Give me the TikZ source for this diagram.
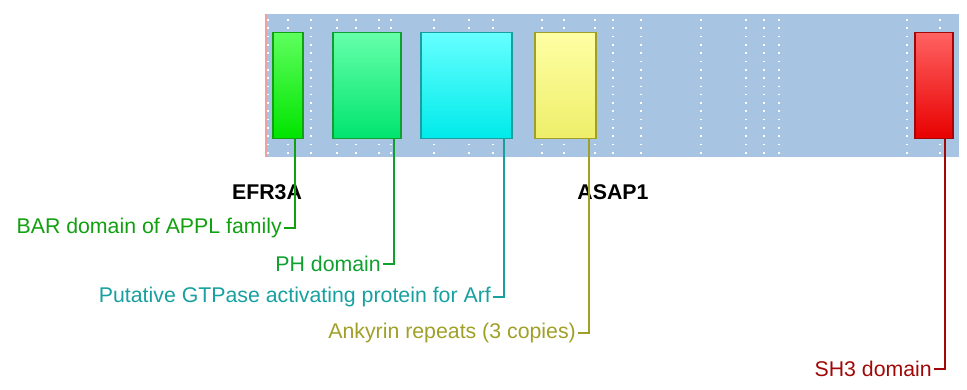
\documentclass[tikz,border=0pt]{standalone}
\usepackage{fontspec}
\setmainfont{Liberation Sans}
\usetikzlibrary{positioning,calc}
\definecolor{Band}{HTML}{A8C4E3}
\definecolor{Edge}{HTML}{F0A0A0}
\definecolor{Bar}{HTML}{10A010}
\definecolor{Ph}{HTML}{10A030}
\definecolor{Gap}{HTML}{18A0A0}
\definecolor{Ank}{HTML}{A0A028}
\definecolor{Sh}{HTML}{A00808}
\definecolor{BarTop}{HTML}{5EFF5E}
\definecolor{BarBot}{HTML}{00E400}
\definecolor{PhTop}{HTML}{66FFAA}
\definecolor{PhBot}{HTML}{00E46E}
\definecolor{GapTop}{HTML}{66FFFF}
\definecolor{GapBot}{HTML}{00EAEA}
\definecolor{AnkTop}{HTML}{FFFFA4}
\definecolor{AnkBot}{HTML}{EEEE6A}
\definecolor{ShTop}{HTML}{FF6262}
\definecolor{ShBot}{HTML}{E80000}
\tikzset{dom/.style={rectangle,inner sep=0pt,minimum height=106pt,line width=1.6pt},
lead/.style={line width=1.8pt},
lab/.style={anchor=east,inner sep=2pt,font=\fontsize{21.3}{23}\selectfont},
prot/.style={font=\fontsize{21.3}{23}\selectfont\bfseries,inner sep=0pt},
dots/.style={draw=white,line width=1.6pt,dash pattern=on 1.6pt off 6.7pt}}

\begin{document}
\begin{tikzpicture}[x=1pt,y=-1pt]
\useasboundingbox (0,0) rectangle (967,390);
\fill[Band] (266,14) rectangle (959,157);
\draw[Edge,line width=1.5pt] (266,14) -- (266,157);
\foreach \x in {268,288,311,337,356,379,391,434,469,493,542,564,595,613,641,701,746,764,779,907,940}
  \draw[dots] (\x,19.2) -- (\x,155);
% domains
\node[dom,draw=Bar,top color=BarTop,bottom color=BarBot,minimum width=30pt] (bar) at (288,85.5) {};
\node[dom,draw=Ph,top color=PhTop,bottom color=PhBot,minimum width=68pt] (ph) at (367,85.5) {};
\node[dom,draw=Gap,top color=GapTop,bottom color=GapBot,minimum width=91pt] (gap) at (466.5,85.5) {};
\node[dom,draw=Ank,top color=AnkTop,bottom color=AnkBot,minimum width=61pt] (ank) at (565.5,85.5) {};
\node[dom,draw=Sh,top color=ShTop,bottom color=ShBot,minimum width=38pt] (sh) at (934,85.5) {};
% proteins
\node[prot] (efr) at (267,192) {EFR3A};
\node[prot] (asap) at (613,192) {ASAP1};
% labels
\node[lab,text=Bar] (barl) at (284,228) {BAR domain of APPL family};
\node[lab,text=Ph] (phl) at (383,264) {PH domain};
\node[lab,text=Gap] (gapl) at (493,297) {Putative GTPase activating protein for Arf};
\node[lab,text=Ank] (ankl) at (578,333) {Ankyrin repeats (3 copies)};
\node[lab,text=Sh] (shl) at (934,369) {SH3 domain};
\draw[lead,draw=Bar] ([xshift=7pt]bar.south) |- (barl.east);
\draw[lead,draw=Ph] ([xshift=27pt]ph.south) |- (phl.east);
\draw[lead,draw=Gap] ([xshift=37.5pt]gap.south) |- (gapl.east);
\draw[lead,draw=Ank] ([xshift=23.5pt]ank.south) |- (ankl.east);
\draw[lead,draw=Sh] ([xshift=11pt]sh.south) |- (shl.east);
\end{tikzpicture}
\end{document}
